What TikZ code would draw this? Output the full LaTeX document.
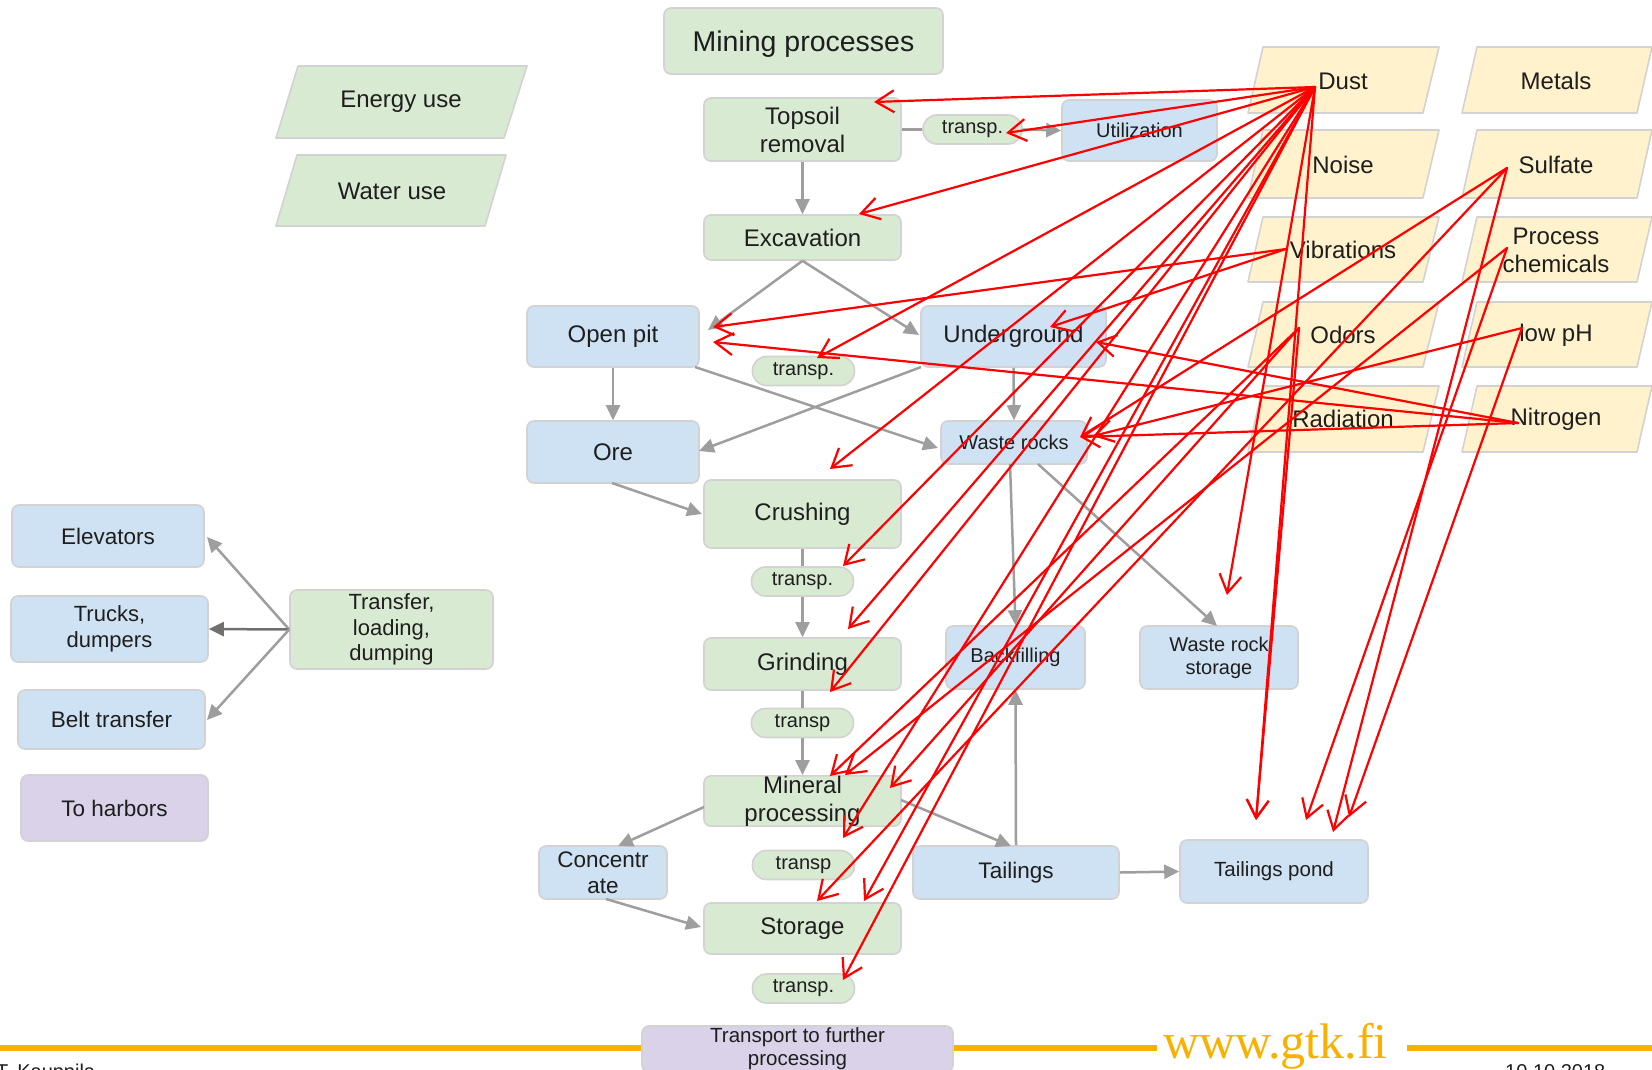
\documentclass[tikz,border=0pt]{standalone}
\usepackage{fontspec}
\setmainfont{Liberation Sans}
\newfontfamily\urlfont{Liberation Serif}
\usetikzlibrary{arrows.meta}
\definecolor{fillg}{HTML}{D9EAD3}
\definecolor{fillb}{HTML}{CFE2F3}
\definecolor{fillp}{HTML}{D9D2E9}
\definecolor{filly}{HTML}{FFF2CC}
\definecolor{edgec}{HTML}{D2D2D2}
\definecolor{flowc}{HTML}{9E9E9E}
\definecolor{flowdark}{HTML}{707070}
\definecolor{inkc}{HTML}{1E1E1E}
\definecolor{gtkorange}{HTML}{F8B100}
\newcommand\fsz[2]{\fontsize{#1}{#2}\selectfont}
\tikzset{
  procbox/.style={draw=edgec, line width=1.6pt, rounded corners=7pt, align=center,
    inner sep=0pt, text=inkc, font=\fsz{24}{28}},
  greenbox/.style={procbox, fill=fillg},
  bluebox/.style={procbox, fill=fillb},
  purplebox/.style={procbox, fill=fillp},
  pill/.style={procbox, fill=fillg, rounded corners=14pt, minimum width=102pt,
    minimum height=29pt, font=\fsz{20}{22}},
  slantbox/.style={draw=edgec, line width=1.6pt, line join=round},
  tagtext/.style={text=inkc, font=\fsz{24}{28}, align=center, inner sep=0pt},
  link/.style={draw=flowc, line width=2.5pt},
  flow/.style={link, -{Triangle[length=15pt,width=14pt]}},
  hazard/.style={draw=red, line width=2.2pt, line cap=round,
    -{Straight Barb[length=18pt,width=22pt]}},
}
\begin{document}
\begin{tikzpicture}[x=1pt,y=-1pt]
\useasboundingbox (0,0) rectangle (1652,1069);
\fill[white] (0,0) rectangle (1652,1069);

% ---------- input parallelograms (left)
\draw[slantbox, fill=fillg] (298,66) -- (527,66) -- (504,138) -- (276,138) -- cycle;
\node[tagtext] (energy) at (401,102) {Energy use};
\draw[slantbox, fill=fillg] (297,155) -- (506,155) -- (485,226) -- (276,226) -- cycle;
\node[tagtext] (water) at (392,191) {Water use};

% ---------- emission parallelograms (right)
\foreach \t/\b in {47/113,130/198,217/282,302/367,386/452}{
  \draw[slantbox, fill=filly] (1263,\t) -- (1439,\t) -- (1423,\b) -- (1248,\b) -- cycle;
  \draw[slantbox, fill=filly] (1477,\t) -- (1652,\t) -- (1637,\b) -- (1462,\b) -- cycle;
}
\node[tagtext] (dust) at (1343,81) {Dust};
\node[tagtext] (noise) at (1343,165) {Noise};
\node[tagtext] (vibr) at (1343,250) {Vibrations};
\node[tagtext] (odors) at (1343,335) {Odors};
\node[tagtext] (radiation) at (1343,419) {Radiation};
\node[tagtext] (metals) at (1556,81) {Metals};
\node[tagtext] (sulfate) at (1556,165) {Sulfate};
\node[tagtext] (chem) at (1556,250) {Process\\chemicals};
\node[tagtext] (lowph) at (1556,335) {low pH};
\node[tagtext] (nitrogen) at (1556,419) {Nitrogen};

% ---------- process boxes
\node[greenbox, minimum width=279pt, minimum height=66pt, font=\fsz{28.5}{32}, text depth=0pt] (mining) at (803.5,41) {Mining processes};
\node[greenbox, minimum width=197pt, minimum height=63pt] (topsoil) at (802.5,129.5) {Topsoil\\removal};
\node[pill, minimum width=99pt] (trA) at (972.5,129.5) {transp.};
\node[bluebox, minimum width=155pt, minimum height=61pt, font=\fsz{20}{24}] (util) at (1139.5,130.5) {Utilization};
\node[greenbox, minimum width=197pt, minimum height=45pt] (excav) at (802.5,237.5) {Excavation};
\node[bluebox, minimum width=172pt, minimum height=61pt] (openpit) at (613,336.5) {Open pit};
\node[bluebox, minimum width=185pt, minimum height=61pt] (underground) at (1013.5,336.5) {Underground};
\node[pill] (trB) at (803.5,371) {transp.};
\node[bluebox, minimum width=172pt, minimum height=62pt] (ore) at (613,452) {Ore};
\node[bluebox, minimum width=146pt, minimum height=43pt, font=\fsz{20}{24}] (waste) at (1014,442.5) {Waste rocks};
\node[greenbox, minimum width=197pt, minimum height=68pt] (crushing) at (802.5,514) {Crushing};
\node[pill] (trC) at (802.5,581.5) {transp.};
\node[greenbox, minimum width=197pt, minimum height=52pt] (grinding) at (802.5,664) {Grinding};
\node[pill] (trD) at (802.5,723) {transp};
\node[greenbox, minimum width=197pt, minimum height=46pt] (mineral) at (802.5,801) {Mineral\\processing};
\node[bluebox, minimum width=128pt, minimum height=53pt, font=\fsz{22.5}{26}] (conc) at (603,872.5) {Concentr\\ate};
\node[pill] (trE) at (803.5,865) {transp};
\node[bluebox, minimum width=206pt, minimum height=53pt, font=\fsz{22.5}{26}] (tailings) at (1016,872.5) {Tailings};
\node[bluebox, minimum width=188pt, minimum height=63pt, font=\fsz{20.5}{24}] (pond) at (1274,871.5) {Tailings pond};
\node[greenbox, minimum width=197pt, minimum height=51pt] (storage) at (802.5,928.5) {Storage};
\node[pill] (trF) at (803.5,988.5) {transp.};
\node[bluebox, minimum width=139pt, minimum height=63pt, font=\fsz{20}{24}] (backfill) at (1015.5,657.5) {Backfilling};
\node[bluebox, minimum width=158pt, minimum height=63pt, font=\fsz{20}{23}] (wrs) at (1219,657.5) {Waste rock\\storage};

% ---------- transfer options (left)
\node[bluebox, minimum width=192pt, minimum height=62pt, font=\fsz{22.5}{26}] (elev) at (108,536) {Elevators};
\node[bluebox, minimum width=197pt, minimum height=66pt, font=\fsz{22}{26}] (trucks) at (109.5,629) {Trucks,\\dumpers};
\node[bluebox, minimum width=187pt, minimum height=59pt, font=\fsz{22.5}{26}] (belt) at (111.5,719.5) {Belt transfer};
\node[purplebox, minimum width=187pt, minimum height=66pt, font=\fsz{22.5}{26}] (harbors) at (114.5,808) {To harbors};
\node[greenbox, minimum width=203pt, minimum height=79pt, font=\fsz{22}{25.5}] (transfer) at (391.5,629.5) {Transfer,\\loading,\\dumping};

% ---------- end points of the grey flow arrows
\coordinate (opIn) at (708,330);
\coordinate (ugIn) at (919,335);
\coordinate (opOut) at (695,367);
\coordinate (ugOut) at (921,367);
\coordinate (wrIn) at (938,448);
\coordinate (oreIn) at (699,451);
\coordinate (oreOut) at (612,483);
\coordinate (crIn) at (702,514);
\coordinate (mpL) at (704,807);
\coordinate (mpR) at (901,800);
\coordinate (concIn) at (618,846);
\coordinate (tailIn) at (1011,846);
\coordinate (concOut) at (606,899);
\coordinate (stIn) at (701,927);
\coordinate (wrOutA) at (1010,464);
\coordinate (wrOutB) at (1038,464);
\coordinate (wrsIn) at (1217,626);
\coordinate (elevIn) at (207,537);
\coordinate (beltIn) at (207,720);

% ---------- grey flow arrows
\draw[flow] (topsoil.south) -- (excav.north);
\draw[link] (topsoil.east) -- (trA.west);
\draw[flow] (trA.east) -- (util.west);
\draw[flow] (excav.south) -- (opIn);
\draw[flow] (excav.south) -- (ugIn);
\draw[flow] (openpit.south) -- (ore.north);
\draw[flow] (opOut) -- (wrIn);
\draw[flow] (ugOut) -- (oreIn);
\draw[flow] (underground.south) -- (waste.north);
\draw[flow] (oreOut) -- (crIn);
\draw[link] (crushing.south) -- (trC.north);
\draw[flow] (trC.south) -- (grinding.north);
\draw[link] (grinding.south) -- (trD.north);
\draw[flow] (trD.south) -- (mineral.north);
\draw[flow] (mpL) -- (concIn);
\draw[flow] (mpR) -- (tailIn);
\draw[flow] (concOut) -- (stIn);
\draw[flow] (tailings.north) -- (backfill.south);
\draw[flow] (tailings.east) -- (pond.west);
\draw[flow] (wrOutA) -- (backfill.north);
\draw[flow] (wrOutB) -- (wrsIn);
\draw[flow] (transfer.west) -- (elevIn);
\draw[flow, draw=flowdark] (transfer.west) -- (trucks.east);
\draw[flow] (transfer.west) -- (beltIn);

% ---------- footer
\draw[gtkorange, line width=5.5pt] (0,1048) -- (1157,1048);
\draw[gtkorange, line width=5.5pt] (1407,1048) -- (1652,1048);
\node[purplebox, minimum width=311pt, minimum height=46pt, font=\fsz{20.5}{23}] (further) at (797.5,1049) {Transport to further\\processing};
\node[anchor=base west, inner sep=0pt, text=gtkorange, font=\urlfont\fsz{50}{50}] (web) at (1163,1058) {www.gtk.fi};
\node[anchor=base west, inner sep=0pt, text=inkc, font=\fsz{20}{22}] (author) at (-4,1078) {T. Kauppila};
\node[anchor=base west, inner sep=0pt, text=inkc, font=\fsz{20}{22}] (date) at (1505,1078) {10.10.2018};

% ---------- impact sources
\coordinate (sDust) at (1315,87);
\coordinate (sVib) at (1286,249);
\coordinate (sOdor) at (1299,328);
\coordinate (sSulf) at (1507,168);
\coordinate (sChem) at (1507,248);
\coordinate (sPh) at (1522,328);
\coordinate (sNitro) at (1518,423);

% ---------- impact targets
\coordinate (tTop) at (874,102);
\coordinate (tTrA) at (1006,133);
\coordinate (tExc) at (859,214);
\coordinate (tOp1) at (713,327);
\coordinate (tOp2) at (713,342);
\coordinate (tTrB) at (817,358);
\coordinate (tUg1) at (1050,327);
\coordinate (tUg2) at (1096,342);
\coordinate (tWr1) at (1080,437);
\coordinate (tWr2) at (1093,436);
\coordinate (tCru) at (830,469);
\coordinate (tTrC) at (843,566);
\coordinate (tGr1) at (848,629);
\coordinate (tGr2) at (830,692);
\coordinate (tWrs) at (1227,595);
\coordinate (tMp1) at (830,776);
\coordinate (tMp2) at (845,775);
\coordinate (tMp3) at (890,788);
\coordinate (tMpB) at (843,838);
\coordinate (tSt1) at (817,901);
\coordinate (tSt2) at (864,901);
\coordinate (tTrF) at (843,980);
\coordinate (tTp1) at (1256,820);
\coordinate (tTp2) at (1306,820);
\coordinate (tTp3) at (1333,832);
\coordinate (tTp4) at (1349,817);

% ---------- impact arrows
\foreach \t in {tTop,tTrA,tExc,tTrB,tCru,tTrC,tGr1,tGr2,tMpB,tSt2,tTrF,tWrs,tTp1}
  \draw[hazard] (sDust) -- (\t);
\draw[hazard] (sVib) -- (tOp1);
\draw[hazard] (sVib) -- (tUg1);
\draw[hazard] (sOdor) -- (tMp1);
\draw[hazard] (sOdor) -- (tMp3);
\draw[hazard] (sOdor) -- (tTp1);
\draw[hazard] (sSulf) -- (tWr1);
\draw[hazard] (sSulf) -- (tSt1);
\draw[hazard] (sSulf) -- (tTp3);
\draw[hazard] (sChem) -- (tMp2);
\draw[hazard] (sChem) -- (tTp2);
\draw[hazard] (sPh) -- (tWr2);
\draw[hazard] (sPh) -- (tTp4);
\draw[hazard] (sNitro) -- (tOp2);
\draw[hazard] (sNitro) -- (tUg2);
\draw[hazard] (sNitro) -- (tWr1);
\end{tikzpicture}
\end{document}
